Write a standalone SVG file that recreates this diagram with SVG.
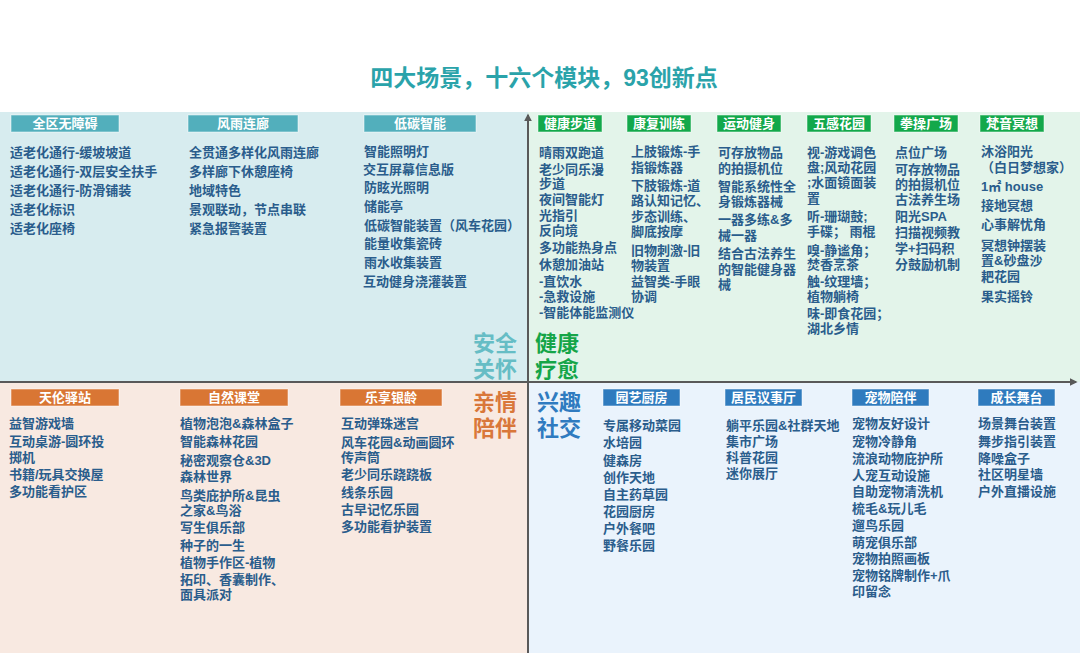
<svg xmlns="http://www.w3.org/2000/svg" width="1080" height="653" viewBox="0 0 1080 653">
<defs>
<style>
text{font-family:"Liberation Sans","Noto Sans CJK SC",sans-serif;font-weight:bold;}
.it{font-size:13px;fill:#2A5D8C;}
.hd{font-size:13px;fill:#FFFFFF;text-anchor:middle;}
.big{font-size:22px;}
.teal{fill:#52AFBC;}
.green{fill:#13A84B;}
.orange{fill:#D97634;}
.blue{fill:#2F7BBE;}
.hb{stroke:#FFFFFF;stroke-opacity:0.5;stroke-width:1;}
.axis{stroke:#595959;stroke-width:2;fill:none;}
</style>
<marker id="arr" viewBox="0 0 10 10" refX="8" refY="5" markerWidth="4" markerHeight="4" orient="auto">
<path d="M0,0 L10,5 L0,10 z" fill="#595959"/>
</marker>
</defs>
<rect x="0" y="0" width="1080" height="653" fill="#FFFFFF"/>
<g id="backgrounds">
<rect x="0" y="112" width="528" height="270" fill="#D7ECEF"/>
<rect x="528" y="112" width="552" height="270" fill="#E3F4EA"/>
<rect x="0" y="382" width="528" height="271" fill="#F8E9E1"/>
<rect x="528" y="382" width="552" height="271" fill="#EAF3FC"/>
</g>
<g id="title">
<text x="544" y="86" font-size="23" fill="#2AA3AA" text-anchor="middle">四大场景，十六个模块，93创新点</text>
</g>

<g id="connectors">
<line class="axis" x1="528" y1="653" x2="528" y2="115" marker-end="url(#arr)"/>
<line class="axis" x1="0" y1="382" x2="1076" y2="382" marker-end="url(#arr)"/>
</g>

<g id="quadrant-labels">
<text class="big" fill="#66BDC5" x="473" y="350.5">安全</text>
<text class="big" fill="#66BDC5" x="473" y="377">关怀</text>
<text class="big" fill="#15A548" x="535" y="350.5">健康</text>
<text class="big" fill="#15A548" x="535" y="377">疗愈</text>
<text class="big" fill="#D9773A" x="473" y="409.5">亲情</text>
<text class="big" fill="#D9773A" x="473" y="436">陪伴</text>
<text class="big" fill="#2F7BC0" x="537" y="409.5">兴趣</text>
<text class="big" fill="#2F7BC0" x="537" y="436">社交</text>
</g>

<!-- Top-left -->
<g id="node-quanqu">
<rect class="teal hb" x="11" y="115" width="108" height="17"/>
<text class="hd" x="65" y="128">全区无障碍</text>
<text class="it" x="10" y="157">适老化通行-缓坡坡道</text>
<text class="it" x="10" y="176">适老化通行-双层安全扶手</text>
<text class="it" x="10" y="195">适老化通行-防滑铺装</text>
<text class="it" x="10" y="214">适老化标识</text>
<text class="it" x="10" y="233">适老化座椅</text>
</g>
<g id="node-fengyu">
<rect class="teal hb" x="188" y="115" width="110" height="17"/>
<text class="hd" x="243" y="128">风雨连廊</text>
<text class="it" x="189" y="157">全贯通多样化风雨连廊</text>
<text class="it" x="189" y="176">多样廊下休憩座椅</text>
<text class="it" x="189" y="195">地域特色</text>
<text class="it" x="189" y="214">景观联动，节点串联</text>
<text class="it" x="189" y="233">紧急报警装置</text>
</g>
<g id="node-ditan">
<rect class="teal hb" x="364" y="115" width="112" height="17"/>
<text class="hd" x="420" y="128">低碳智能</text>
<text class="it" x="364" y="156">智能照明灯</text>
<text class="it" x="363" y="174">交互屏幕信息版</text>
<text class="it" x="364" y="192">防眩光照明</text>
<text class="it" x="364" y="211">储能亭</text>
<text class="it" x="364" y="230">低碳智能装置（风车花园）</text>
<text class="it" x="364" y="248">能量收集瓷砖</text>
<text class="it" x="364" y="267">雨水收集装置</text>
<text class="it" x="363" y="286">互动健身浇灌装置</text>
</g>

<!-- Top-right -->
<g id="node-jiankang-budao">
<rect class="green hb" x="538" y="115" width="64" height="17"/>
<text class="hd" x="570" y="128">健康步道</text>
<text class="it" x="539" y="157">晴雨双跑道</text>
<text class="it" x="539" y="173.5">老少同乐漫</text>
<text class="it" x="539" y="188">步道</text>
<text class="it" x="539" y="203.5">夜间智能灯</text>
<text class="it" x="539" y="220">光指引</text>
<text class="it" x="539" y="235">反向境</text>
<text class="it" x="539" y="252">多功能热身点</text>
<text class="it" x="539" y="269">休憩加油站</text>
<text class="it" x="539" y="285.5">-直饮水</text>
<text class="it" x="539" y="301">-急救设施</text>
<text class="it" x="539" y="317">-智能体能监测仪</text>
</g>
<g id="node-kangfu">
<rect class="green hb" x="627" y="115" width="64" height="17"/>
<text class="hd" x="659" y="128">康复训练</text>
<text class="it" x="631" y="156">上肢锻炼-手</text>
<text class="it" x="631" y="172">指锻炼器</text>
<text class="it" x="631" y="189.5">下肢锻炼-道</text>
<text class="it" x="631" y="205">路认知记忆、</text>
<text class="it" x="631" y="221">步态训练、</text>
<text class="it" x="631" y="236">脚底按摩</text>
<text class="it" x="631" y="255">旧物刺激-旧</text>
<text class="it" x="631" y="270">物装置</text>
<text class="it" x="631" y="286">益智类-手眼</text>
<text class="it" x="631" y="301">协调</text>
</g>
<g id="node-yundong">
<rect class="green hb" x="717" y="115" width="64" height="17"/>
<text class="hd" x="749" y="128">运动健身</text>
<text class="it" x="718" y="157">可存放物品</text>
<text class="it" x="718" y="173">的拍摄机位</text>
<text class="it" x="718" y="190.5">智能系统性全</text>
<text class="it" x="718" y="206">身锻炼器械</text>
<text class="it" x="718" y="223.5">一器多练&amp;多</text>
<text class="it" x="718" y="239.5">械一器</text>
<text class="it" x="718" y="258">结合古法养生</text>
<text class="it" x="718" y="273.5">的智能健身器</text>
<text class="it" x="718" y="288.5">械</text>
</g>
<g id="node-wugan">
<rect class="green hb" x="807" y="115" width="64" height="17"/>
<text class="hd" x="839" y="128">五感花园</text>
<text class="it" x="807" y="157">视-游戏调色</text>
<text class="it" x="807" y="172">盘;风动花园</text>
<text class="it" x="807" y="187">;水面镜面装</text>
<text class="it" x="807" y="203">置</text>
<text class="it" x="807" y="221">听-珊瑚鼓;</text>
<text class="it" x="807" y="236">手碟； 雨棍</text>
<text class="it" x="807" y="254.5">嗅-静谧角；</text>
<text class="it" x="807" y="269">焚香烹茶</text>
<text class="it" x="807" y="286">触-纹理墙；</text>
<text class="it" x="807" y="301">植物躺椅</text>
<text class="it" x="807" y="318">味-即食花园；</text>
<text class="it" x="807" y="333">湖北乡情</text>
</g>
<g id="node-quancao">
<rect class="green hb" x="894" y="115" width="64" height="17"/>
<text class="hd" x="926" y="128">拳操广场</text>
<text class="it" x="895" y="157">点位广场</text>
<text class="it" x="895" y="173.5">可存放物品</text>
<text class="it" x="895" y="189">的拍摄机位</text>
<text class="it" x="895" y="204">古法养生场</text>
<text class="it" x="895" y="220.5">阳光SPA</text>
<text class="it" x="895" y="237">扫描视频教</text>
<text class="it" x="895" y="253">学+扫码积</text>
<text class="it" x="895" y="269">分鼓励机制</text>
</g>
<g id="node-fanyin">
<rect class="green hb" x="980" y="115" width="64" height="17"/>
<text class="hd" x="1012" y="128">梵音冥想</text>
<text class="it" x="981" y="156">沐浴阳光</text>
<text class="it" x="981" y="172">（白日梦想家）</text>
<text class="it" x="981" y="190.5">1㎡ house</text>
<text class="it" x="981" y="209.5">接地冥想</text>
<text class="it" x="981" y="228.5">心事解忧角</text>
<text class="it" x="981" y="249.5">冥想钟摆装</text>
<text class="it" x="981" y="265">置&amp;砂盘沙</text>
<text class="it" x="981" y="280.5">耙花园</text>
<text class="it" x="981" y="300.5">果实摇铃</text>
</g>

<!-- Bottom-left -->
<g id="node-tianlun">
<rect class="orange hb" x="11" y="389" width="108" height="17"/>
<text class="hd" x="65" y="402">天伦驿站</text>
<text class="it" x="9" y="428">益智游戏墙</text>
<text class="it" x="9" y="445.5">互动桌游-圆环投</text>
<text class="it" x="9" y="462">掷机</text>
<text class="it" x="9" y="479">书籍/玩具交换屋</text>
<text class="it" x="9" y="496">多功能看护区</text>
</g>
<g id="node-ziran">
<rect class="orange hb" x="180" y="389" width="108" height="17"/>
<text class="hd" x="234" y="402">自然课堂</text>
<text class="it" x="180" y="428">植物泡泡&amp;森林盒子</text>
<text class="it" x="180" y="445.5">智能森林花园</text>
<text class="it" x="180" y="464.5">秘密观察仓&amp;3D</text>
<text class="it" x="180" y="480.5">森林世界</text>
<text class="it" x="180" y="499.5">鸟类庇护所&amp;昆虫</text>
<text class="it" x="180" y="514.5">之家&amp;鸟浴</text>
<text class="it" x="180" y="532">写生俱乐部</text>
<text class="it" x="180" y="549.5">种子的一生</text>
<text class="it" x="180" y="567">植物手作区-植物</text>
<text class="it" x="180" y="583.5">拓印、香囊制作、</text>
<text class="it" x="180" y="598.5">面具派对</text>
</g>
<g id="node-lexiang">
<rect class="orange hb" x="340" y="389" width="102" height="17"/>
<text class="hd" x="391" y="402">乐享银龄</text>
<text class="it" x="341" y="428">互动弹珠迷宫</text>
<text class="it" x="341" y="447">风车花园&amp;动画圆环</text>
<text class="it" x="341" y="462">传声筒</text>
<text class="it" x="341" y="479">老少同乐跷跷板</text>
<text class="it" x="341" y="497">线条乐园</text>
<text class="it" x="341" y="513.5">古早记忆乐园</text>
<text class="it" x="341" y="531">多功能看护装置</text>
</g>

<!-- Bottom-right -->
<g id="node-yuanyi">
<rect class="blue hb" x="603" y="389" width="77" height="17"/>
<text class="hd" x="641.5" y="402">园艺厨房</text>
<text class="it" x="603" y="430">专属移动菜园</text>
<text class="it" x="603" y="447">水培园</text>
<text class="it" x="603" y="464.5">健森房</text>
<text class="it" x="603" y="482">创作天地</text>
<text class="it" x="603" y="499">自主药草园</text>
<text class="it" x="603" y="515.5">花园厨房</text>
<text class="it" x="603" y="533">户外餐吧</text>
<text class="it" x="603" y="550">野餐乐园</text>
</g>
<g id="node-jumin">
<rect class="blue hb" x="725" y="389" width="77" height="17"/>
<text class="hd" x="763.5" y="402">居民议事厅</text>
<text class="it" x="726" y="430">躺平乐园&amp;社群天地</text>
<text class="it" x="726" y="446">集市广场</text>
<text class="it" x="726" y="462">科普花园</text>
<text class="it" x="726" y="478">迷你展厅</text>
</g>
<g id="node-chongwu">
<rect class="blue hb" x="852" y="389" width="77" height="17"/>
<text class="hd" x="890.5" y="402">宠物陪伴</text>
<text class="it" x="852" y="428">宠物友好设计</text>
<text class="it" x="852" y="445.5">宠物冷静角</text>
<text class="it" x="852" y="463">流浪动物庇护所</text>
<text class="it" x="852" y="479.5">人宠互动设施</text>
<text class="it" x="852" y="495.5">自助宠物清洗机</text>
<text class="it" x="852" y="513">梳毛&amp;玩儿毛</text>
<text class="it" x="852" y="530">遛鸟乐园</text>
<text class="it" x="852" y="547">萌宠俱乐部</text>
<text class="it" x="852" y="563">宠物拍照画板</text>
<text class="it" x="852" y="580">宠物铭牌制作+爪</text>
<text class="it" x="852" y="596">印留念</text>
</g>
<g id="node-chengzhang">
<rect class="blue hb" x="978" y="389" width="77" height="17"/>
<text class="hd" x="1016.5" y="402">成长舞台</text>
<text class="it" x="978" y="428">场景舞台装置</text>
<text class="it" x="978" y="445.5">舞步指引装置</text>
<text class="it" x="978" y="463">降噪盒子</text>
<text class="it" x="978" y="478.5">社区明星墙</text>
<text class="it" x="978" y="495.5">户外直播设施</text>
</g>
</svg>
